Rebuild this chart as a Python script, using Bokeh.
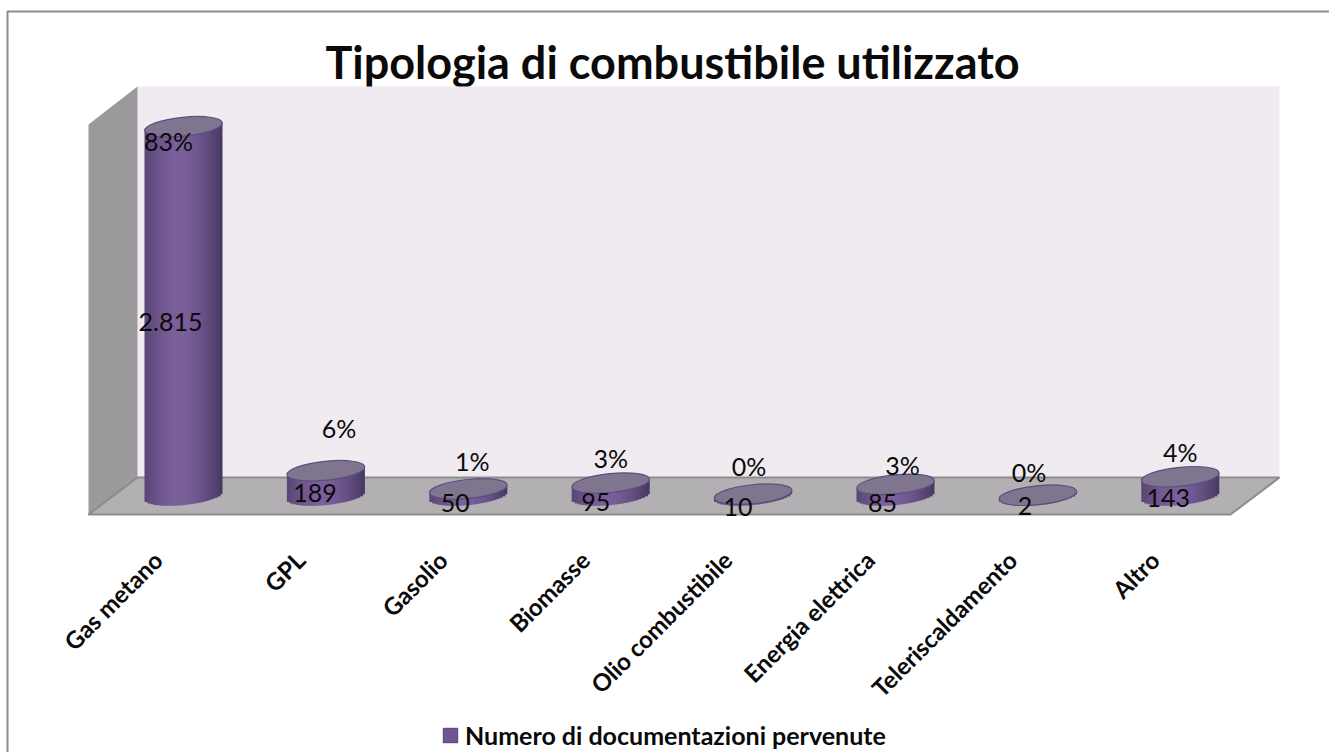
import math
from bokeh.plotting import figure
from bokeh.models import ColumnDataSource, FixedTicker, Legend, LegendItem
from bokeh.core.properties import value
from bokeh.embed import file_html
from bokeh.resources import INLINE

categories = ["Gas metano", "GPL", "Gasolio", "Biomasse", "Olio combustibile",
              "Energia elettrica", "Teleriscaldamento", "Altro"]
counts = [2815, 189, 50, 95, 10, 85, 2, 143]
count_labels = ["2.815", "189", "50", "95", "10", "85", "2", "143"]
percent_labels = ["83%", "6%", "1%", "3%", "0%", "3%", "0%", "4%"]
pct_dx = [-15, 13, 4, 0, -4, 7, -9, 0]
pct_dy = [14, -43, -28, -25, -28, -19, -23, -25]
cnt_dx = [-13, -11, -13, -15, -15, -13, -13, -12]
cnt_dy = [11, 10, 11, 13, 12, 13, 11, 12]
title_text = "Tipologia di combustibile utilizzato"
legend_text = "Numero di documentazioni pervenute"

W, H = 1329, 752
PX_Y = 0.131      # pixels per unit of value
PX_X = 142.4      # pixels per category
X0 = 183          # pixel of the first category
BASE = 495
FONT = "Lato"

p = figure(width=W, height=H, output_backend="svg", toolbar_location=None,
           x_range=(-X0 / PX_X, (W - X0) / PX_X),
           y_range=((BASE - H) / PX_Y, BASE / PX_Y),
           min_border_left=0, min_border_right=0, min_border_top=0, min_border_bottom=0,
           outline_line_color=None, background_fill_color="white", border_fill_color="white")
p.grid.visible = False
p.yaxis.visible = False

def X(px): return (px - X0) / PX_X
def Y(px): return (BASE - px) / PX_Y

# outer chart frame (left and top edges only)
p.line([X(7), X(7), X(W)], [Y(H), Y(11), Y(11)], line_color="#8c8c8c", line_width=2)

# title
p.text(x=[X(672)], y=[Y(61)], text=[title_text], text_font=value(FONT), text_font_size="45px",
       text_font_style="bold", text_color="#0a0a0a", text_align="center", text_baseline="middle")

# walls and floor of the 3D box
p.patch([X(137), X(1279), X(1279), X(137)], [Y(86), Y(86), Y(477), Y(477)],
        fill_color="#efebf1", line_color=None)
p.patch([X(88), X(137), X(137), X(88)], [Y(124), Y(86), Y(477), Y(515)],
        fill_color="#9c999c", line_color=None)
p.patch([X(88), X(137), X(1279), X(1230)], [Y(514), Y(477), Y(477), Y(514)],
        fill_color="#b3b0b3", line_color="#8e8b8e", line_width=2)

# cylinders
A, B, TILT, N = 39.0, 9.5, 4.0, 26

def shade(u):
    t = 1 - min(1.0, abs(u + 0.12) / 1.12) ** 1.7
    r = int(0x44 + (0x7c - 0x44) * t)
    g = int(0x38 + (0x60 - 0x38) * t)
    b = int(0x60 + (0x9c - 0x60) * t)
    return f"#{r:02x}{g:02x}{b:02x}"

left, right, bottom, top, colors = [], [], [], [], []
for i, v in enumerate(counts):
    for s in range(N):
        u0 = -1 + 2 * s / N
        u1 = u0 + 2 / N
        u = (u0 + u1) / 2
        left.append(i + u0 * A / PX_X)
        right.append(i + (u1 + (0.03 if s < N - 1 else 0)) * A / PX_X)
        bottom.append((TILT * u - B * math.sqrt(1 - u * u)) / PX_Y)
        top.append(v + TILT * u / PX_Y)
        colors.append(shade(u))
p.quad(left=left, right=right, bottom=bottom, top=top, fill_color=colors, line_color=None)

xs = list(range(len(counts)))
p.ellipse(x=xs, y=counts, width=2 * A, height=2 * B, width_units="screen", height_units="screen",
          angle=math.atan(TILT / A), fill_color="#80758f", line_color="#5d4f7e", line_width=1.2)

# data labels
src = ColumnDataSource(dict(x=xs, top=counts, mid=[c / 2 for c in counts],
                            pct=percent_labels, cnt=count_labels,
                            pdx=pct_dx, pdy=pct_dy, cdx=cnt_dx, cdy=cnt_dy))
for txt, yy, dx, dy in (("pct", "top", "pdx", "pdy"), ("cnt", "mid", "cdx", "cdy")):
    p.text(x="x", y=yy, text=txt, x_offset=dx, y_offset=dy, source=src,
           text_font=value(FONT), text_font_size="25px", text_color="#0a0a0a",
           text_align="center", text_baseline="middle")

# category axis, fixed just under the floor of the box
ticks = [i - 0.18 for i in xs]
ax = p.xaxis[0]
ax.fixed_location = Y(515)
ax.ticker = FixedTicker(ticks=ticks)
ax.major_label_overrides = {t: c for t, c in zip(ticks, categories)}
ax.major_label_orientation = math.pi / 4
ax.major_label_text_font = FONT
ax.major_label_text_font_size = "24px"
ax.major_label_text_font_style = "bold"
ax.major_label_text_color = "#0a0a0a"
ax.major_label_standoff = 34
ax.axis_line_color = None
ax.major_tick_line_color = None
ax.minor_tick_line_color = None

# legend: its swatch belongs to a bar outside the visible range
swatch = p.quad(left=[-100], right=[-99], bottom=[0], top=[1],
                fill_color="#6f5592", line_color="#4f4170")
legend = Legend(items=[LegendItem(label=legend_text, renderers=[swatch])],
                location=(441, 2), orientation="horizontal",
                border_line_color=None, background_fill_alpha=0,
                label_text_font=FONT, label_text_font_size="25px", label_text_font_style="bold",
                label_text_color="#0a0a0a", glyph_width=18, glyph_height=18, label_standoff=6,
                padding=0, margin=0)
p.add_layout(legend, "center")

open("out.html", "w").write(file_html(p, INLINE))
